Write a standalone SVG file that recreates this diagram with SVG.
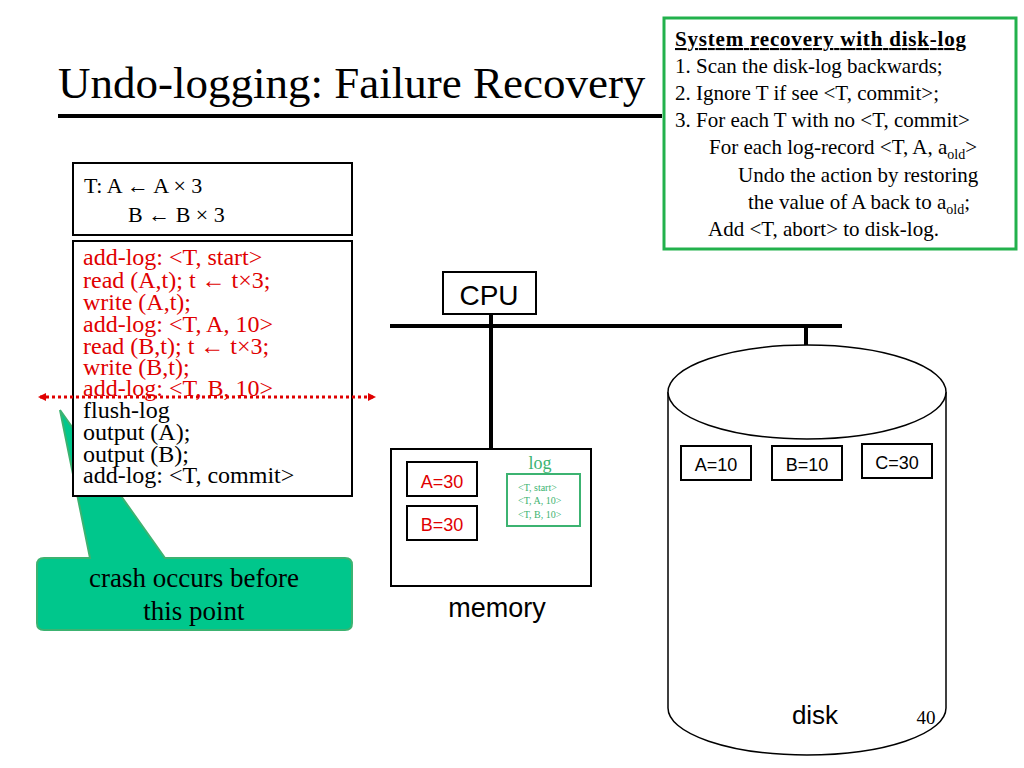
<svg xmlns="http://www.w3.org/2000/svg" width="1024" height="768" viewBox="0 0 1024 768">
<defs>
<style>
.t{font-family:"Liberation Serif",serif}
.s{font-family:"Liberation Sans","DejaVu Sans",sans-serif}
.red{fill:#e00000}
.box{fill:#fff;stroke:#000;stroke-width:2}
.gbox{fill:#fff;stroke:#3cb371;stroke-width:2}
</style>
<marker id="ah" markerWidth="8" markerHeight="8" refX="6" refY="4" orient="auto-start-reverse" markerUnits="userSpaceOnUse"><path d="M0,0 L8,4 L0,8 z" fill="#e00000"/></marker>
</defs>
<rect width="1024" height="768" fill="#fff"/>
<g id="title">
<text x="58" y="98" class="t" font-size="45">Undo-logging: Failure Recovery</text>
<line x1="58" y1="116" x2="662" y2="116" stroke="#000" stroke-width="4"/>
</g>
<g id="recovery">
<rect x="664" y="18" width="352" height="231" fill="#fff" stroke="#22b14c" stroke-width="3"/>
<g class="t" font-size="21">
<text x="675" y="46" font-weight="bold" text-decoration="underline" textLength="291">System recovery with disk-log</text>
<text x="675" y="73">1. Scan the disk-log backwards;</text>
<text x="675" y="100">2. Ignore T if see &lt;T, commit&gt;;</text>
<text x="675" y="127">3. For each T with no &lt;T, commit&gt;</text>
<text x="709" y="154">For each log-record &lt;T, A, a<tspan font-size="14" dy="5">old</tspan><tspan dy="-5">&gt;</tspan></text>
<text x="738" y="182">Undo the action by restoring</text>
<text x="748" y="209">the value of A back to a<tspan font-size="14" dy="5">old</tspan><tspan dy="-5">;</tspan></text>
<text x="708" y="236">Add &lt;T, abort&gt; to disk-log.</text>
</g>
</g>
<g id="crash">
<path d="M60,410 L165,558 L345,558 Q352,558 352,565 L352,623 Q352,630 345,630 L44,630 Q37,630 37,623 L37,565 Q37,558 44,558 L90,558 Z" fill="#00c78c" stroke="#3cb371" stroke-width="2"/>
<text x="194" y="587" text-anchor="middle" class="t" font-size="27">crash occurs before</text>
<text x="194" y="620" text-anchor="middle" class="t" font-size="27">this point</text>
</g>
<g id="tx">
<rect x="73" y="163" width="279" height="72" class="box"/>
<text x="84" y="193" class="t" font-size="22">T:  A  ← A × 3</text>
<text x="128" y="222" class="t" font-size="22">B  ← B × 3</text>
</g>
<g id="code">
<rect x="73" y="241" width="279" height="255" class="box"/>
<g class="t" font-size="24">
<text x="83" y="265" class="red">add-log: &lt;T, start&gt;</text>
<text x="83" y="288" class="red">read (A,t);  t ← t×3;</text>
<text x="83" y="310" class="red">write (A,t);</text>
<text x="83" y="332" class="red">add-log: &lt;T, A, 10&gt;</text>
<text x="83" y="354" class="red">read (B,t);  t ← t×3;</text>
<text x="83" y="375" class="red">write (B,t);</text>
<text x="83" y="396" class="red">add-log: &lt;T, B, 10&gt;</text>
<text x="83" y="418">flush-log</text>
<text x="83" y="440">output (A);</text>
<text x="83" y="462">output (B);</text>
<text x="83" y="483">add-log: &lt;T, commit&gt;</text>
</g>
</g>
<g id="connectors">
<line x1="40" y1="397" x2="374" y2="397" stroke="#e00000" stroke-width="3" stroke-dasharray="3,3" marker-start="url(#ah)" marker-end="url(#ah)"/>
<line x1="390" y1="326" x2="842" y2="326" stroke="#000" stroke-width="4"/>
<line x1="491" y1="314" x2="491" y2="450" stroke="#000" stroke-width="4"/>
<line x1="806" y1="326" x2="806" y2="388" stroke="#000" stroke-width="4"/>
</g>
<g id="cpu">
<rect x="443" y="272" width="93" height="42" class="box" stroke-width="1.5"/>
<text x="489" y="305" text-anchor="middle" class="s" font-size="28">CPU</text>
</g>
<g id="memory">
<rect x="391" y="449" width="200" height="137" class="box" stroke-width="1.5"/>
<rect x="407" y="462" width="70" height="34" class="box" stroke-width="1.5"/>
<text x="442" y="488" text-anchor="middle" class="s red" font-size="18">A=30</text>
<rect x="407" y="506" width="70" height="34" class="box" stroke-width="1.5"/>
<text x="442" y="531" text-anchor="middle" class="s red" font-size="18">B=30</text>
<text x="540" y="469" text-anchor="middle" class="t" font-size="18" fill="#3cb371">log</text>
<rect x="507" y="474" width="73" height="52" class="gbox"/>
<g class="t" font-size="10" fill="#3cb371">
<text x="518" y="491">&lt;T, start&gt;</text>
<text x="518" y="504">&lt;T, A, 10&gt;</text>
<text x="518" y="518">&lt;T, B, 10&gt;</text>
</g>
<text x="497" y="617" text-anchor="middle" class="s" font-size="27">memory</text>
</g>
<g id="disk">
<path d="M668,392 L668,708 A139,47 0 0 0 946,708 L946,392" fill="#fff" stroke="#000" stroke-width="1.5"/>
<ellipse cx="807" cy="392" rx="139" ry="47" fill="#fff" stroke="#000" stroke-width="1.5"/>
<rect x="681" y="446" width="70" height="34" class="box" stroke-width="1.5"/>
<text x="716" y="471" text-anchor="middle" class="s" font-size="18">A=10</text>
<rect x="772" y="446" width="70" height="34" class="box" stroke-width="1.5"/>
<text x="807" y="471" text-anchor="middle" class="s" font-size="18">B=10</text>
<rect x="862" y="444" width="70" height="34" class="box" stroke-width="1.5"/>
<text x="897" y="469" text-anchor="middle" class="s" font-size="18">C=30</text>
<text x="815" y="724" text-anchor="middle" class="s" font-size="26">disk</text>
</g>
<text x="926" y="724" text-anchor="middle" class="t" font-size="19">40</text>
</svg>
